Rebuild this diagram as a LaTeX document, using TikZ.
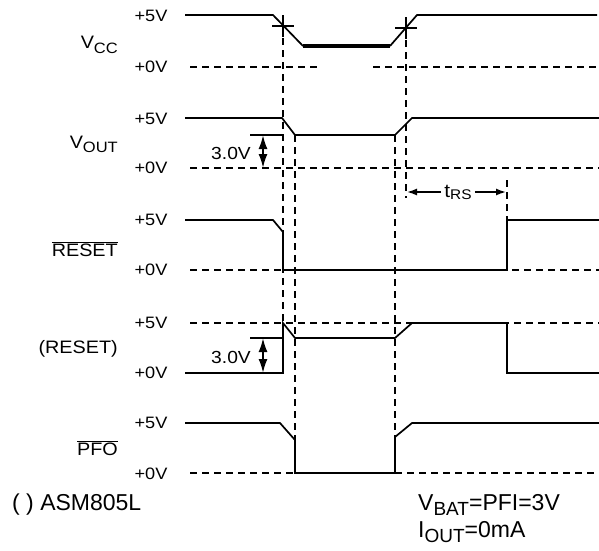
\documentclass[tikz,border=0pt]{standalone}
\usepackage{fontspec}
\setmainfont{Liberation Sans}
\newfontfamily\lblfont[FakeStretch=1.1]{Liberation Sans}
\usetikzlibrary{arrows.meta}
\begin{document}
\begin{tikzpicture}[x=1pt,y=-1pt,
  sig/.style={line width=1.7pt, line join=miter},
  fat/.style={line width=3.2pt},
  dsh/.style={line width=1.4pt, dash pattern=on 7pt off 5pt},
  crs/.style={line width=1.3pt},
  lvl/.style={font=\lblfont\fontsize{16.5}{16.5}\selectfont, inner sep=0pt},
  sname/.style={font=\lblfont\fontsize{18}{18}\selectfont, inner sep=0pt, anchor=base east},
  note/.style={font=\fontsize{23}{23}\selectfont, inner sep=0pt, anchor=base west},
  dim/.style={line width=2pt, {Latex[length=14pt,width=9pt]}-{Latex[length=14pt,width=9pt]}},
  tarr/.style={line width=1.5pt, -{Latex[length=10pt,width=7pt]}},
  reff/.style={line width=1.5pt}
]
\useasboundingbox (0,0) rectangle (599,550);

% level labels
\foreach \n/\y/\t in {a5/16/+5V, a0/67/+0V, b5/119/+5V, b0/168/+0V, c5/220/+5V, c0/270/+0V, d5/323/+5V, d0/373/+0V, e5/423/+5V, e0/474/+0V}
  \node[lvl] (\n) at (151,\y) {\t};

% signal names
\node[sname] (vcc) at (118,48) {V\raisebox{-5pt}{\fontsize{15}{15}\selectfont CC}};
\node[sname] (vout) at (118,148) {V\raisebox{-4pt}{\fontsize{15}{15}\selectfont OUT}};
\node[sname] (rstn) at (118,256) {$\overline{\hbox{RESET}}$};
\node[sname] (rst) at (118,353) {(RESET)};
\node[sname] (pfo) at (118,455) {$\overline{\hbox{PFO}}$};

% Vcc
\draw[sig] (185,15) -- (273,15) -- (303,46);
\draw[fat] (303,46) -- (390,46);
\draw[sig] (390,46) -- (417,15) -- (597,15);
\draw[dsh] (190,67) -- (318,67);
\draw[dsh] (373,67) -- (597,67);
\draw[crs] (272,26) -- (294,26) (283,15) -- (283,37);
\draw[crs] (395,28) -- (417,28) (406,17) -- (406,39);

% Vout
\draw[sig] (185,118) -- (282,118) -- (295,135) -- (395,135) -- (412,118) -- (599,118);
\draw[dsh] (190,168) -- (599,168);
\draw[reff] (250,135) -- (283,135);
\draw[dim] (263,135) -- (263,168);
\node[font=\lblfont\fontsize{17.5}{17.5}\selectfont, inner sep=0pt, anchor=base east] (v3a) at (251,159) {3.0V};

% RESET bar
\draw[sig] (185,220) -- (273,220) -- (283,232) -- (283,270) -- (507,270) -- (507,220) -- (599,220);
\draw[dsh] (190,270) -- (283,270);
\draw[dsh] (512,270) -- (599,270);

% (RESET)
\draw[dsh] (190,323) -- (599,323);
\draw[sig] (185,373) -- (283,373) -- (283,323) -- (295,338) -- (395,338) -- (412,323) -- (507,323) -- (507,373) -- (599,373);
\draw[reff] (250,338) -- (283,338);
\draw[dim] (263,338) -- (263,373);
\node[font=\lblfont\fontsize{17.5}{17.5}\selectfont, inner sep=0pt, anchor=base east] (v3b) at (251,363) {3.0V};

% PFO bar
\draw[sig] (185,423) -- (280,423) -- (295,440) -- (295,473) -- (395,473) -- (395,437) -- (412,423) -- (599,423);
\draw[dsh] (190,473) -- (295,473);
\draw[dsh] (395,473) -- (599,473);

% vertical dashed guides
\draw[dsh] (283,26) -- (283,323);
\draw[dsh] (295,135) -- (295,440);
\draw[dsh] (395,135) -- (395,437);
\draw[dsh] (406,28) -- (406,198);
\draw[dsh] (507,180) -- (507,220);

% tRS
\node[font=\lblfont\fontsize{19}{19}\selectfont, inner sep=3pt] (trs) at (458,192) {t\raisebox{-2pt}{\fontsize{14}{14}\selectfont RS}};
\draw[tarr] (trs.west) -- (407,192);
\draw[tarr] (trs.east) -- (506,192);

% notes
\node[note] (part) at (12,510) {( ) ASM805L};
\node[note] (vbat) at (418,510) {V\raisebox{-5pt}{\fontsize{19}{19}\selectfont BAT}=PFI=3V};
\node[note] (iout) at (418,537) {I\raisebox{-5pt}{\fontsize{19}{19}\selectfont OUT}=0mA};
\end{tikzpicture}
\end{document}
